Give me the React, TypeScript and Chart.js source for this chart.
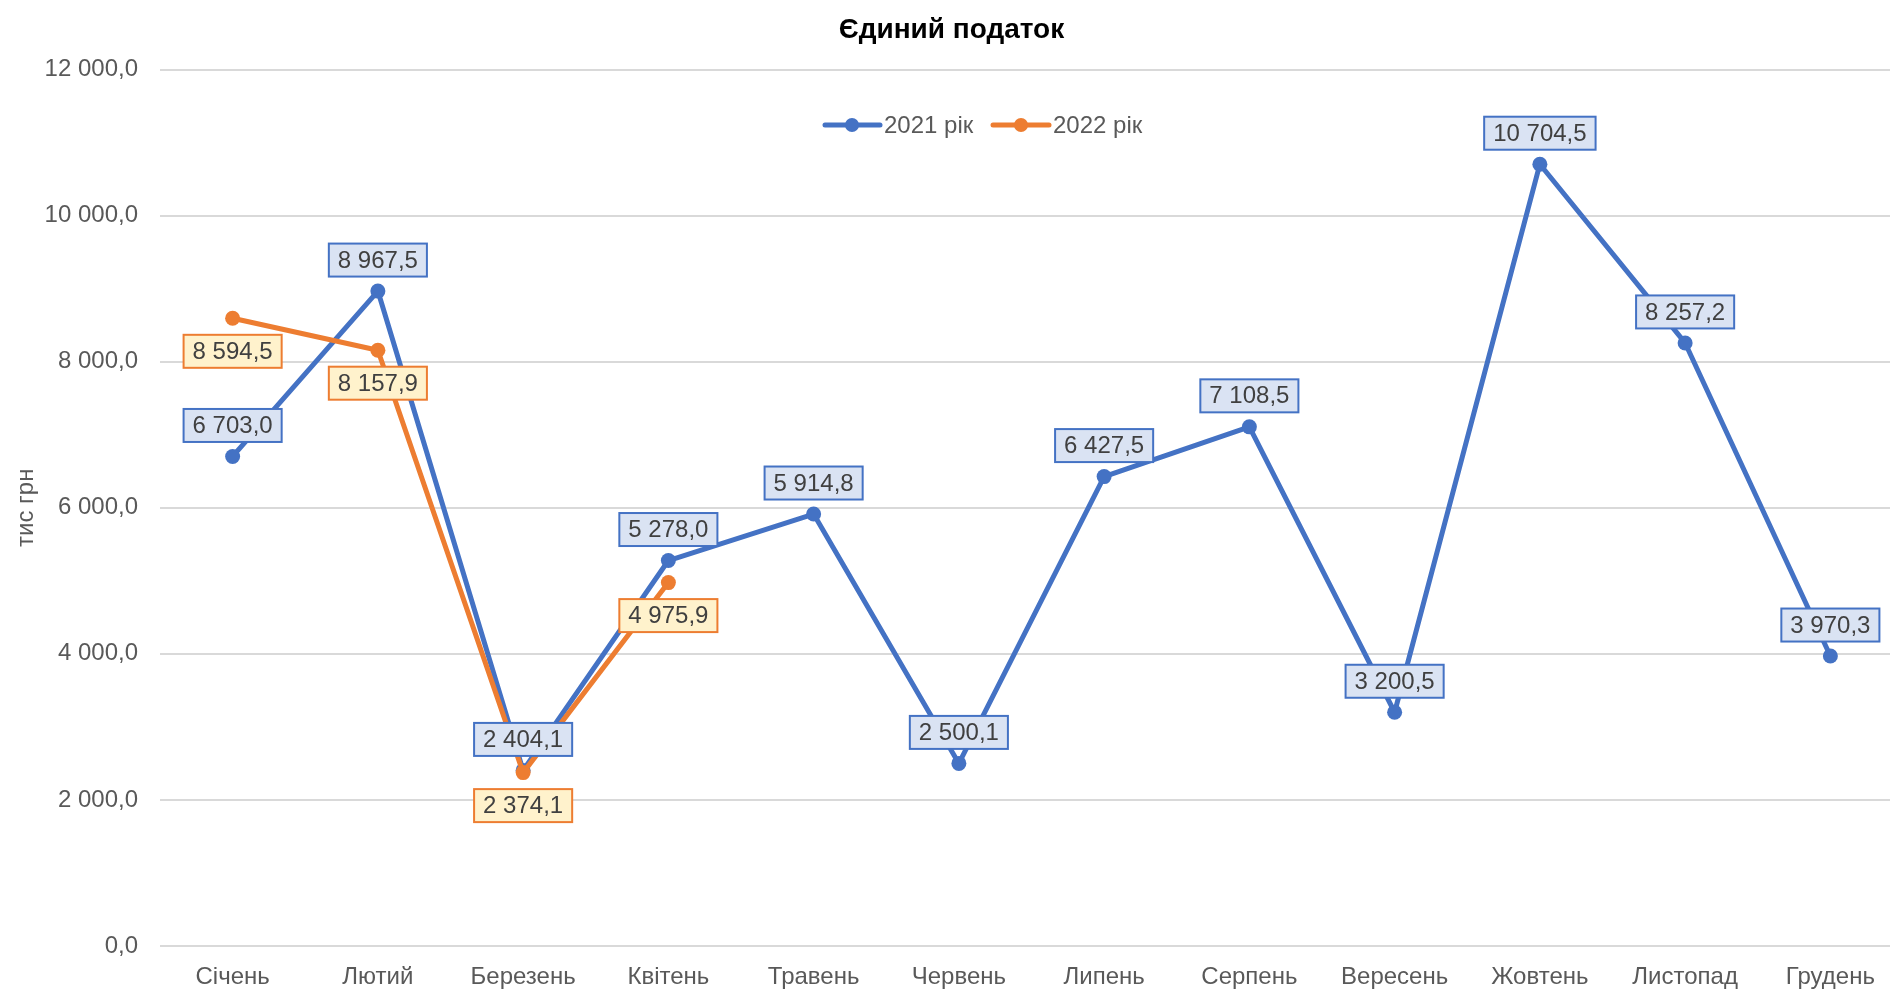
import React, { useEffect, useRef } from "react";
import { Chart, registerables } from "chart.js";

Chart.register(...registerables);

const months = [
  "Січень", "Лютий", "Березень", "Квітень", "Травень", "Червень",
  "Липень", "Серпень", "Вересень", "Жовтень", "Листопад", "Грудень",
];
const values2021 = [6703.0, 8967.5, 2404.1, 5278.0, 5914.8, 2500.1, 6427.5, 7108.5, 3200.5, 10704.5, 8257.2, 3970.3];
const values2022 = [8594.5, 8157.9, 2374.1, 4975.9];
const seriesNames = ["2021 рік", "2022 рік"];
const yMin = 0;
const yMax = 12000;
const yStep = 2000;

const FONT = '"Liberation Sans", Arial, sans-serif';
const BLUE = "#4472C4";
const ORANGE = "#ED7D31";
const BLUE_FILL = "#DAE3F3";
const ORANGE_FILL = "#FFF2CC";

function fmt(v: number): string {
  const [i, d] = v.toFixed(1).split(".");
  return i.replace(/\B(?=(\d{3})+(?!\d))/g, " ") + "," + d;
}

const labelPlugin = {
  id: "valueLabels",
  afterDatasetsDraw(chart: any) {
    const ctx = chart.ctx;
    ctx.save();
    ctx.font = `24px ${FONT}`;
    ctx.textAlign = "center";
    ctx.textBaseline = "middle";
    chart.data.datasets.forEach((ds: any, di: number) => {
      const meta = chart.getDatasetMeta(di);
      const fill = di === 0 ? BLUE_FILL : ORANGE_FILL;
      const stroke = di === 0 ? BLUE : ORANGE;
      meta.data.forEach((pt: any, i: number) => {
        const v = ds.data[i];
        if (v == null) return;
        const text = fmt(v);
        const w = ctx.measureText(text).width + 18;
        const h = 33;
        const cx = pt.x;
        const cy = pt.y + (di === 0 ? -31 : 33);
        ctx.fillStyle = fill;
        ctx.fillRect(cx - w / 2, cy - h / 2, w, h);
        ctx.lineWidth = 2;
        ctx.strokeStyle = stroke;
        ctx.strokeRect(cx - w / 2, cy - h / 2, w, h);
        ctx.fillStyle = "#404040";
        ctx.fillText(text, cx, cy + 1);
      });
    });
    ctx.restore();
  },
};

const legendPlugin = {
  id: "customLegend",
  afterDraw(chart: any) {
    const ctx = chart.ctx;
    ctx.save();
    ctx.font = `24px ${FONT}`;
    ctx.textBaseline = "middle";
    ctx.textAlign = "left";
    const y = 125;
    const items = [
      { x0: 825, x1: 880, cx: 852, tx: 884, color: BLUE, text: seriesNames[0] },
      { x0: 993, x1: 1049, cx: 1021, tx: 1053, color: ORANGE, text: seriesNames[1] },
    ];
    items.forEach((it) => {
      ctx.strokeStyle = it.color;
      ctx.lineWidth = 5;
      ctx.lineCap = "round";
      ctx.beginPath();
      ctx.moveTo(it.x0, y);
      ctx.lineTo(it.x1, y);
      ctx.stroke();
      ctx.fillStyle = it.color;
      ctx.beginPath();
      ctx.arc(it.cx, y, 7, 0, Math.PI * 2);
      ctx.fill();
      ctx.fillStyle = "#595959";
      ctx.fillText(it.text, it.tx, y + 1);
    });
    ctx.restore();
  },
};

const CANVAS_W = 1903;
const CANVAS_H = 989;

export default function App() {
  const ref = useRef<HTMLCanvasElement | null>(null);

  useEffect(() => {
    document.body.style.margin = "0";
    document.body.style.overflow = "hidden";
    const canvas = ref.current;
    if (!canvas) return;
    const chart = new Chart(canvas, {
      type: "line",
      data: {
        labels: months,
        datasets: [
          {
            label: seriesNames[0],
            data: values2021,
            borderColor: BLUE,
            backgroundColor: BLUE,
            borderWidth: 5,
            pointRadius: 7.5,
            pointHoverRadius: 7.5,
            pointBorderWidth: 0,
            pointBackgroundColor: BLUE,
            borderJoinStyle: "round",
            borderCapStyle: "round",
            tension: 0,
            order: 1,
          },
          {
            label: seriesNames[1],
            data: values2022,
            borderColor: ORANGE,
            backgroundColor: ORANGE,
            borderWidth: 5,
            pointRadius: 7.5,
            pointHoverRadius: 7.5,
            pointBorderWidth: 0,
            pointBackgroundColor: ORANGE,
            borderJoinStyle: "round",
            borderCapStyle: "round",
            tension: 0,
            order: 0,
          },
        ],
      },
      options: {
        responsive: false,
        animation: false,
        layout: { autoPadding: false, padding: 0 },
        plugins: {
          legend: { display: false },
          tooltip: { enabled: false },
          title: {
            display: true,
            text: "Єдиний податок",
            color: "#000000",
            font: { family: FONT, size: 28, weight: "bold" },
            padding: { top: 13, bottom: 23 },
          },
        },
        scales: {
          x: {
            offset: true,
            grid: { display: false, drawTicks: false },
            border: { display: false },
            ticks: {
              color: "#595959",
              font: { family: FONT, size: 24 },
              padding: 17,
              maxRotation: 0,
              autoSkip: false,
            },
            afterFit: (scale: any) => {
              scale.height = 43;
            },
          },
          y: {
            min: yMin,
            max: yMax,
            grid: { color: "#D9D9D9", lineWidth: 2, drawTicks: false },
            border: { display: false },
            ticks: {
              stepSize: yStep,
              color: "#595959",
              font: { family: FONT, size: 24 },
              padding: 22,
              callback: (v: any) => fmt(Number(v)),
            },
            title: {
              display: true,
              text: "тис грн",
              color: "#595959",
              font: { family: FONT, size: 24 },
              padding: { top: 12, bottom: 0 },
            },
            afterFit: (scale: any) => {
              scale.width = 160;
            },
          },
        },
      },
      plugins: [labelPlugin, legendPlugin],
    } as any);
    return () => chart.destroy();
  }, []);

  return (
    <div style={{ width: 1890, height: 989, overflow: "hidden" }}>
      <canvas ref={ref} width={CANVAS_W} height={CANVAS_H} style={{ display: "block", width: CANVAS_W, height: CANVAS_H }} />
    </div>
  );
}
